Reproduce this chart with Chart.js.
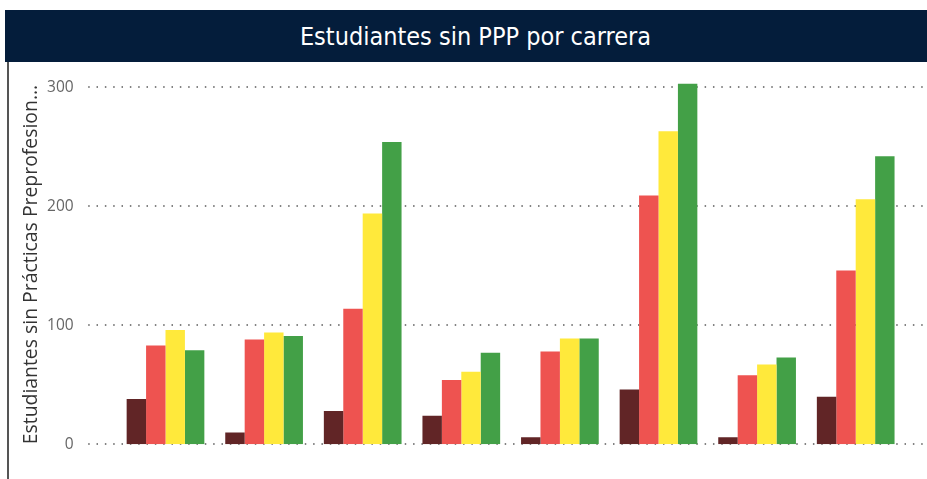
<!DOCTYPE html>
<html><head><meta charset="utf-8">
<script src="https://cdn.jsdelivr.net/npm/chart.js@4.4.0/dist/chart.umd.min.js"></script>
<style>
html,body{margin:0;padding:0;background:#fff;width:927px;height:479px;overflow:hidden;}
#title{position:absolute;left:5px;top:10px;width:903px;padding-left:19px;height:52px;background:#041D3B;color:#fff;
  font-family:"DejaVu Sans Condensed","DejaVu Sans",sans-serif;font-stretch:condensed;font-size:25px;
  display:flex;align-items:center;justify-content:center;}
#border{position:absolute;left:7px;top:62px;width:1.5px;height:417px;background:#555;}
#wrap{position:absolute;left:9px;top:62px;width:918px;height:417px;}
</style></head><body>
<div id="title">Estudiantes sin PPP por carrera</div>
<div id="border"></div>
<div id="wrap"><canvas id="c" width="918" height="417"></canvas></div>
<script>
const categories = ["Carrera 1","Carrera 2","Carrera 3","Carrera 4","Carrera 5","Carrera 6","Carrera 7","Carrera 8"];
const seriesNames = ["Serie 1","Serie 2","Serie 3","Serie 4"];
const serie1 = [38, 10, 28, 24, 6, 46, 6, 40];
const serie2 = [83, 88, 114, 54, 78, 209, 58, 146];
const serie3 = [96, 94, 194, 61, 89, 263, 67, 206];
const serie4 = [79, 91, 254, 77, 89, 303, 73, 242];
const yTicks = [0, 100, 200, 300];
const yAxisTitle = "Estudiantes sin Prácticas Preprofesion...";
const seriesColors = ["#612526", "#EE5350", "#FFE93B", "#43A047"];

const seriesData = [serie1, serie2, serie3, serie4];

const dottedGrid = {
  id: 'dottedGrid',
  beforeDatasetsDraw(chart) {
    const y = chart.scales.y, ctx = chart.ctx;
    ctx.save();
    ctx.strokeStyle = '#5a5a5a';
    ctx.lineWidth = 1.5;
    ctx.setLineDash([1.5, 6.83]);
    y.ticks.forEach(t => {
      const py = Math.round(y.getPixelForValue(t.value));
      ctx.beginPath();
      ctx.moveTo(chart.chartArea.left - 28, py);
      ctx.lineTo(chart.width, py);
      ctx.stroke();
    });
    ctx.restore();
  }
};

new Chart(document.getElementById('c'), {
  type: 'bar',
  data: {
    labels: categories,
    datasets: seriesData.map((d, i) => ({
      label: seriesNames[i],
      data: d,
      backgroundColor: seriesColors[i],
      borderWidth: 0,
      categoryPercentage: 0.788,
      barPercentage: 1.0
    }))
  },
  options: {
    responsive: false,
    animation: false,
    layout: { padding: { top: 13.4, bottom: 34.7, right: 22, left: 0 } },
    plugins: { legend: { display: false }, tooltip: { enabled: false } },
    scales: {
      x: { display: false, offset: true },
      y: {
        min: 0, max: 310,
        afterBuildTicks: s => { s.ticks = yTicks.map(v => ({ value: v })); },
        afterFit: s => { s.width = 107.2; },
        grid: { display: false, drawTicks: true, tickLength: 40 },
        border: { display: false },
        ticks: { padding: 2.5, color: '#666', font: { family: 'Open Sans', size: 15.5 } },
        title: {
          display: true, text: yAxisTitle, align: 'start', color: '#333',
          font: { family: 'Open Sans', size: 19.4 },
          padding: { top: 10.4, bottom: 0 }
        }
      }
    }
  },
  plugins: [dottedGrid]
});
</script>
</body></html>
